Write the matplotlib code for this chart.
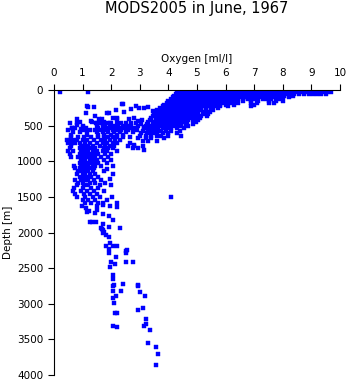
import matplotlib
matplotlib.use("Agg")
import matplotlib.pyplot as plt

plt.rcParams['font.family'] = ['DejaVu Sans']

title = "MODS2005 in June, 1967"
x_label = "Oxygen [ml/l]"
y_label = "Depth [m]"
x_ticks = [0, 1, 2, 3, 4, 5, 6, 7, 8, 9, 10]
y_ticks = [0, 500, 1000, 1500, 2000, 2500, 3000, 3500, 4000]

# Mixed layer and upper oxycline: each depth (m) carries a row of oxygen values (ml/l)
upper_depth = [10, 30, 55, 80, 105, 130, 155, 180, 205, 230, 255, 280, 305, 330,
               360, 390, 420, 450, 480, 510, 540, 570, 600, 640, 680, 720]
upper_oxygen = [
    [4.4, 4.55, 4.7, 4.8, 4.95, 5.1, 5.2, 5.35, 5.5, 5.6, 5.75, 5.9, 6.0, 6.15, 6.3, 6.45, 6.55,
     6.7, 6.85, 7.0, 7.1, 7.25, 7.4, 7.5, 7.65, 7.8, 7.9, 8.05, 8.2, 8.35, 8.5, 8.7, 8.85, 9.0,
     9.15, 9.3, 9.45, 9.6],
    [4.3, 4.45, 4.6, 4.75, 4.9, 5.0, 5.15, 5.3, 5.45, 5.55, 5.7, 5.85, 5.95, 6.1, 6.25, 6.4, 6.5,
     6.65, 6.8, 6.9, 7.05, 7.2, 7.35, 7.45, 7.6, 7.75, 7.85, 8.0, 8.15, 8.3, 8.45, 8.6, 8.8, 8.95,
     9.1, 9.25, 9.4, 9.55, 9.7],
    [4.25, 4.4, 4.55, 4.7, 4.85, 5.0, 5.1, 5.25, 5.4, 5.5, 5.65, 5.8, 5.9, 6.05, 6.2, 6.35, 6.45,
     6.6, 6.75, 6.85, 7.0, 7.15, 7.3, 7.4, 7.55, 7.7, 7.8, 7.95, 8.1, 8.25, 8.4, 8.55, 8.75, 8.9,
     9.05, 9.2, 9.35, 9.5],
    [4.2, 4.35, 4.5, 4.65, 4.8, 4.95, 5.05, 5.2, 5.35, 5.45, 5.6, 5.75, 5.85, 6.0, 6.15, 6.3, 6.4,
     6.55, 6.7, 6.8, 6.95, 7.1, 7.25, 7.35, 7.5, 7.65, 7.75, 7.9, 8.05, 8.2, 8.35],
    [4.15, 4.3, 4.45, 4.6, 4.75, 4.9, 5.0, 5.15, 5.3, 5.4, 5.55, 5.7, 5.8, 5.95, 6.1, 6.25, 6.35,
     6.5, 6.65, 6.75, 6.9, 7.05, 7.2, 7.3, 7.45, 7.6, 7.7, 7.85, 8.0, 8.2],
    [4.1, 4.25, 4.4, 4.55, 4.7, 4.85, 4.95, 5.1, 5.25, 5.35, 5.5, 5.65, 5.75, 5.9, 6.05, 6.2, 6.3,
     6.45, 6.6, 6.8, 6.95, 7.1, 7.3, 7.45, 7.6, 7.8, 7.95],
    [4.0, 4.15, 4.3, 4.45, 4.6, 4.75, 4.9, 5.0, 5.15, 5.3, 5.4, 5.55, 5.7, 5.8, 5.95, 6.1, 6.25,
     6.4, 6.6, 6.9, 7.15, 7.5, 7.75, 8.0],
    [3.95, 4.1, 4.25, 4.4, 4.55, 4.7, 4.8, 4.95, 5.1, 5.2, 5.35, 5.5, 5.6, 5.75, 5.9, 6.05, 6.2,
     6.45, 6.9, 7.1, 7.5, 7.7],
    [3.85, 4.0, 4.15, 4.3, 4.45, 4.6, 4.7, 4.85, 5.0, 5.1, 5.25, 5.4, 5.5, 5.65, 5.8, 6.0, 6.3, 7.0],
    [3.8, 3.95, 4.1, 4.25, 4.4, 4.5, 4.65, 4.8, 4.9, 5.05, 5.2, 5.3, 5.45, 5.6, 5.8, 6.1, 6.9],
    [3.7, 3.9, 4.05, 4.2, 4.35, 4.45, 4.6, 4.75, 4.85, 5.0, 5.15, 5.3, 5.5, 5.75],
    [3.6, 3.8, 3.95, 4.1, 4.25, 4.4, 4.55, 4.65, 4.8, 4.95, 5.1, 5.3, 5.55],
    [3.55, 3.75, 3.9, 4.05, 4.2, 4.35, 4.5, 4.6, 4.75, 4.9, 5.05, 5.25, 5.45],
    [3.5, 3.7, 3.85, 4.0, 4.15, 4.3, 4.45, 4.55, 4.7, 4.85, 5.0, 5.2, 5.4],
    [3.45, 3.6, 3.8, 3.95, 4.1, 4.25, 4.4, 4.5, 4.65, 4.8, 4.95, 5.15, 5.35],
    [3.4, 3.55, 3.75, 3.9, 4.05, 4.2, 4.35, 4.45, 4.6, 4.75, 4.9, 5.1],
    [3.35, 3.55, 3.7, 3.85, 4.0, 4.15, 4.3, 4.4, 4.55, 4.7, 4.85, 5.05],
    [3.3, 3.5, 3.65, 3.8, 3.95, 4.1, 4.2, 4.35, 4.5, 4.65, 4.95],
    [3.25, 3.45, 3.6, 3.75, 3.9, 4.05, 4.2, 4.3, 4.45, 4.6, 4.85],
    [3.2, 3.4, 3.55, 3.7, 3.85, 4.0, 4.15, 4.3, 4.45, 4.7],
    [3.15, 3.35, 3.5, 3.65, 3.8, 3.95, 4.1, 4.3, 4.55],
    [3.1, 3.3, 3.45, 3.6, 3.75, 3.9, 4.1, 4.4],
    [3.05, 3.25, 3.45, 3.6, 3.8, 4.0, 4.3],
    [3.0, 3.2, 3.4, 3.6, 3.75, 4.0, 4.45],
    [2.95, 3.2, 3.4, 3.85],
    [3.1, 3.3, 3.6],
]

# Intermediate band joining the oxycline to the minimum zone
band_depth = [470, 500, 530, 560, 590, 625]
band_oxygen = [
    [0.55, 0.8, 1.65, 1.85, 2.0, 2.2, 2.35, 2.5, 2.7, 2.85],
    [1.0, 1.5, 1.7, 1.8, 1.95, 2.1, 2.25, 2.4, 2.55, 2.7, 2.95],
    [0.75, 1.55, 1.75, 1.9, 2.0, 2.15, 2.3, 2.45, 2.65, 2.8],
    [0.5, 1.05, 1.25, 1.45, 1.6, 1.85, 2.05, 2.2, 2.35, 2.6, 2.9],
    [0.9, 1.5, 1.7, 1.9, 2.1, 2.3, 2.5, 2.75],
    [0.6, 1.15, 1.55, 1.75, 2.0, 2.2, 2.4],
]

# Oxygen minimum zone: rows of oxygen values per depth
omz_depth = [660, 700, 740, 780, 820, 860, 900, 940, 980, 1020, 1060, 1100, 1140,
             1180, 1220, 1260, 1300, 1340, 1380, 1420, 1460, 1500, 1540, 1580]
omz_oxygen = [
    [0.6, 0.85, 1.05, 1.3, 1.55, 1.75, 1.9, 2.05, 2.2, 2.4, 2.65],
    [0.45, 0.55, 0.65, 0.8, 1.0, 1.15, 1.4, 1.65, 1.8, 1.95, 2.15, 2.3],
    [0.5, 0.62, 0.75, 0.9, 1.1, 1.25, 1.5, 1.7, 1.85, 2.05, 2.2, 2.65],
    [0.6, 0.95, 1.05, 1.2, 1.35, 1.6, 1.8, 1.95, 2.1, 2.6, 2.8, 3.1],
    [0.55, 0.9, 1.0, 1.15, 1.3, 1.45, 1.75, 1.9, 2.05, 2.75],
    [0.5, 0.65, 0.95, 1.1, 1.2, 1.35, 1.5, 1.7, 1.85, 2.2],
    [0.55, 0.9, 1.0, 1.15, 1.25, 1.4, 1.55, 1.8, 2.0],
    [0.6, 0.85, 0.95, 1.05, 1.2, 1.3, 1.45, 1.65, 1.9],
    [0.95, 1.0, 1.1, 1.25, 1.35, 1.5, 1.75, 2.0],
    [0.9, 1.05, 1.15, 1.3, 1.4, 1.55, 1.85],
    [0.7, 0.95, 1.1, 1.2, 1.35, 1.45, 1.65, 2.05],
    [0.75, 0.9, 1.0, 1.15, 1.3, 1.4],
    [0.85, 0.95, 1.05, 1.2, 1.35, 1.75],
    [0.8, 1.0, 1.1, 1.25, 1.45, 2.05],
    [0.9, 1.05, 1.15, 1.3, 1.55],
    [0.75, 0.95, 1.1, 1.2, 1.4, 1.65],
    [0.85, 1.0, 1.25, 1.45, 1.8],
    [0.8, 1.05, 1.2, 1.6, 2.0],
    [0.7, 1.0, 1.3, 1.55],
    [0.65, 0.95, 1.15, 1.4, 1.75],
    [0.75, 1.05, 1.25, 1.5],
    [0.8, 1.1, 1.35, 1.6, 2.02],
    [1.0, 1.2, 1.45, 1.85],
    [1.1, 1.3, 1.55, 1.7, 2.22],
]

# Scattered casts between the surface and the minimum zone
scatter_oxygen = [0.21, 1.18, 2.40, 1.17, 1.40, 1.11, 1.87, 2.16, 2.22, 2.05, 2.46, 2.69, 2.86,
                  2.98, 3.16, 3.27, 3.45, 2.63, 2.81, 2.92, 3.06, 0.82, 1.29, 1.46, 1.58, 1.75,
                  0.64, 0.94, 1.11, 1.17, 3.04, 3.16, 3.27, 3.38, 1.20, 1.44, 1.67, 1.91, 2.37,
                  2.20, 1.96, 1.61, 1.32, 0.91, 0.80, 0.62, 0.68, 1.03, 1.50, 3.13, 2.78, 2.92,
                  1.96, 1.87, 4.09]
scatter_depth = [33, 33, 201, 225, 234, 318, 318, 281, 412, 388, 309, 271, 230,
                 250, 255, 235, 290, 412, 390, 440, 415, 412, 435, 458, 412, 449,
                 529, 552, 529, 575, 480, 520, 565, 595, 243, 360, 412, 327, 196,
                 398, 468, 459, 444, 444, 491, 538, 594, 515, 468, 842, 772, 819,
                 1249, 1113, 1506]

# Deep water casts
deep_oxygen = [0.99, 1.12, 1.23, 1.17, 1.45, 1.52, 1.73, 1.50, 1.70, 1.96, 2.22, 1.94, 2.05,
               1.25, 1.34, 1.48, 1.73, 1.64, 1.70, 1.75, 1.73, 1.81, 1.91, 1.91, 2.30, 1.68,
               1.81, 1.96, 2.08, 2.22, 1.94, 2.55, 1.91, 2.50, 2.53, 2.16, 2.01, 2.12, 1.95,
               2.52, 2.75, 2.08, 2.08, 2.11, 2.08, 2.43, 2.94, 2.93, 2.05, 2.34, 3.02, 3.17,
               2.18, 2.06, 2.09, 3.11, 2.92, 2.14, 2.20, 3.22, 3.22, 3.13, 2.08, 2.22, 3.34,
               3.27, 3.55, 3.62, 3.57]
deep_depth = [1624, 1652, 1698, 1717, 1722, 1680, 1740, 1628, 1618, 1633, 1638, 1764, 1825,
              1853, 1853, 1853, 1885, 1932, 1965, 1988, 2012, 2035, 2059, 1927, 1942, 1950,
              2185, 2152, 2185, 2190, 2236, 2245, 2283, 2283, 2255, 2348, 2414, 2442, 2480,
              2419, 2419, 2596, 2648, 2732, 2745, 2727, 2732, 2750, 2816, 2826, 2840, 2896,
              2896, 2924, 2994, 3064, 3088, 3135, 3135, 3219, 3289, 3317, 3317, 3331, 3373,
              3556, 3612, 3701, 3855]

ox, dep = [], []
for rows_d, rows_o in ((upper_depth, upper_oxygen), (band_depth, band_oxygen),
                       (omz_depth, omz_oxygen)):
    for d, row in zip(rows_d, rows_o):
        ox.extend(row)
        dep.extend([d] * len(row))
ox.extend(scatter_oxygen); dep.extend(scatter_depth)
ox.extend(deep_oxygen); dep.extend(deep_depth)

fig = plt.figure(figsize=(3.48, 3.84), dpi=100)
ax = fig.add_axes([54 / 348, 9 / 384, 286 / 348, 285 / 384])

ax.plot(ox, dep, linestyle='none', marker='s', markersize=2.2,
        markerfacecolor='#0000ff', markeredgecolor='#0000ff', markeredgewidth=0.3,
        antialiased=False)

ax.set_xlim(0, 10)
ax.set_ylim(4000, 0)
ax.set_xticks(x_ticks)
ax.set_yticks(y_ticks)
ax.xaxis.tick_top()
ax.xaxis.set_label_position('top')
ax.spines['right'].set_visible(False)
ax.spines['bottom'].set_visible(False)
for s in ('top', 'left'):
    ax.spines[s].set_linewidth(0.8)
ax.tick_params(axis='x', direction='out', length=4, width=0.8, labelsize=7.5, pad=5)
ax.tick_params(axis='y', direction='out', length=4.3, width=0.8, labelsize=7.5, pad=3.5)
ax.set_xlabel(x_label, fontsize=7.5, labelpad=4)
ax.set_ylabel(y_label, fontsize=7.5, labelpad=3)
fig.text(197 / 348, 1 - 8 / 384, title, ha='center', va='center', fontsize=10.5)

fig.savefig("out.png", dpi=100)
